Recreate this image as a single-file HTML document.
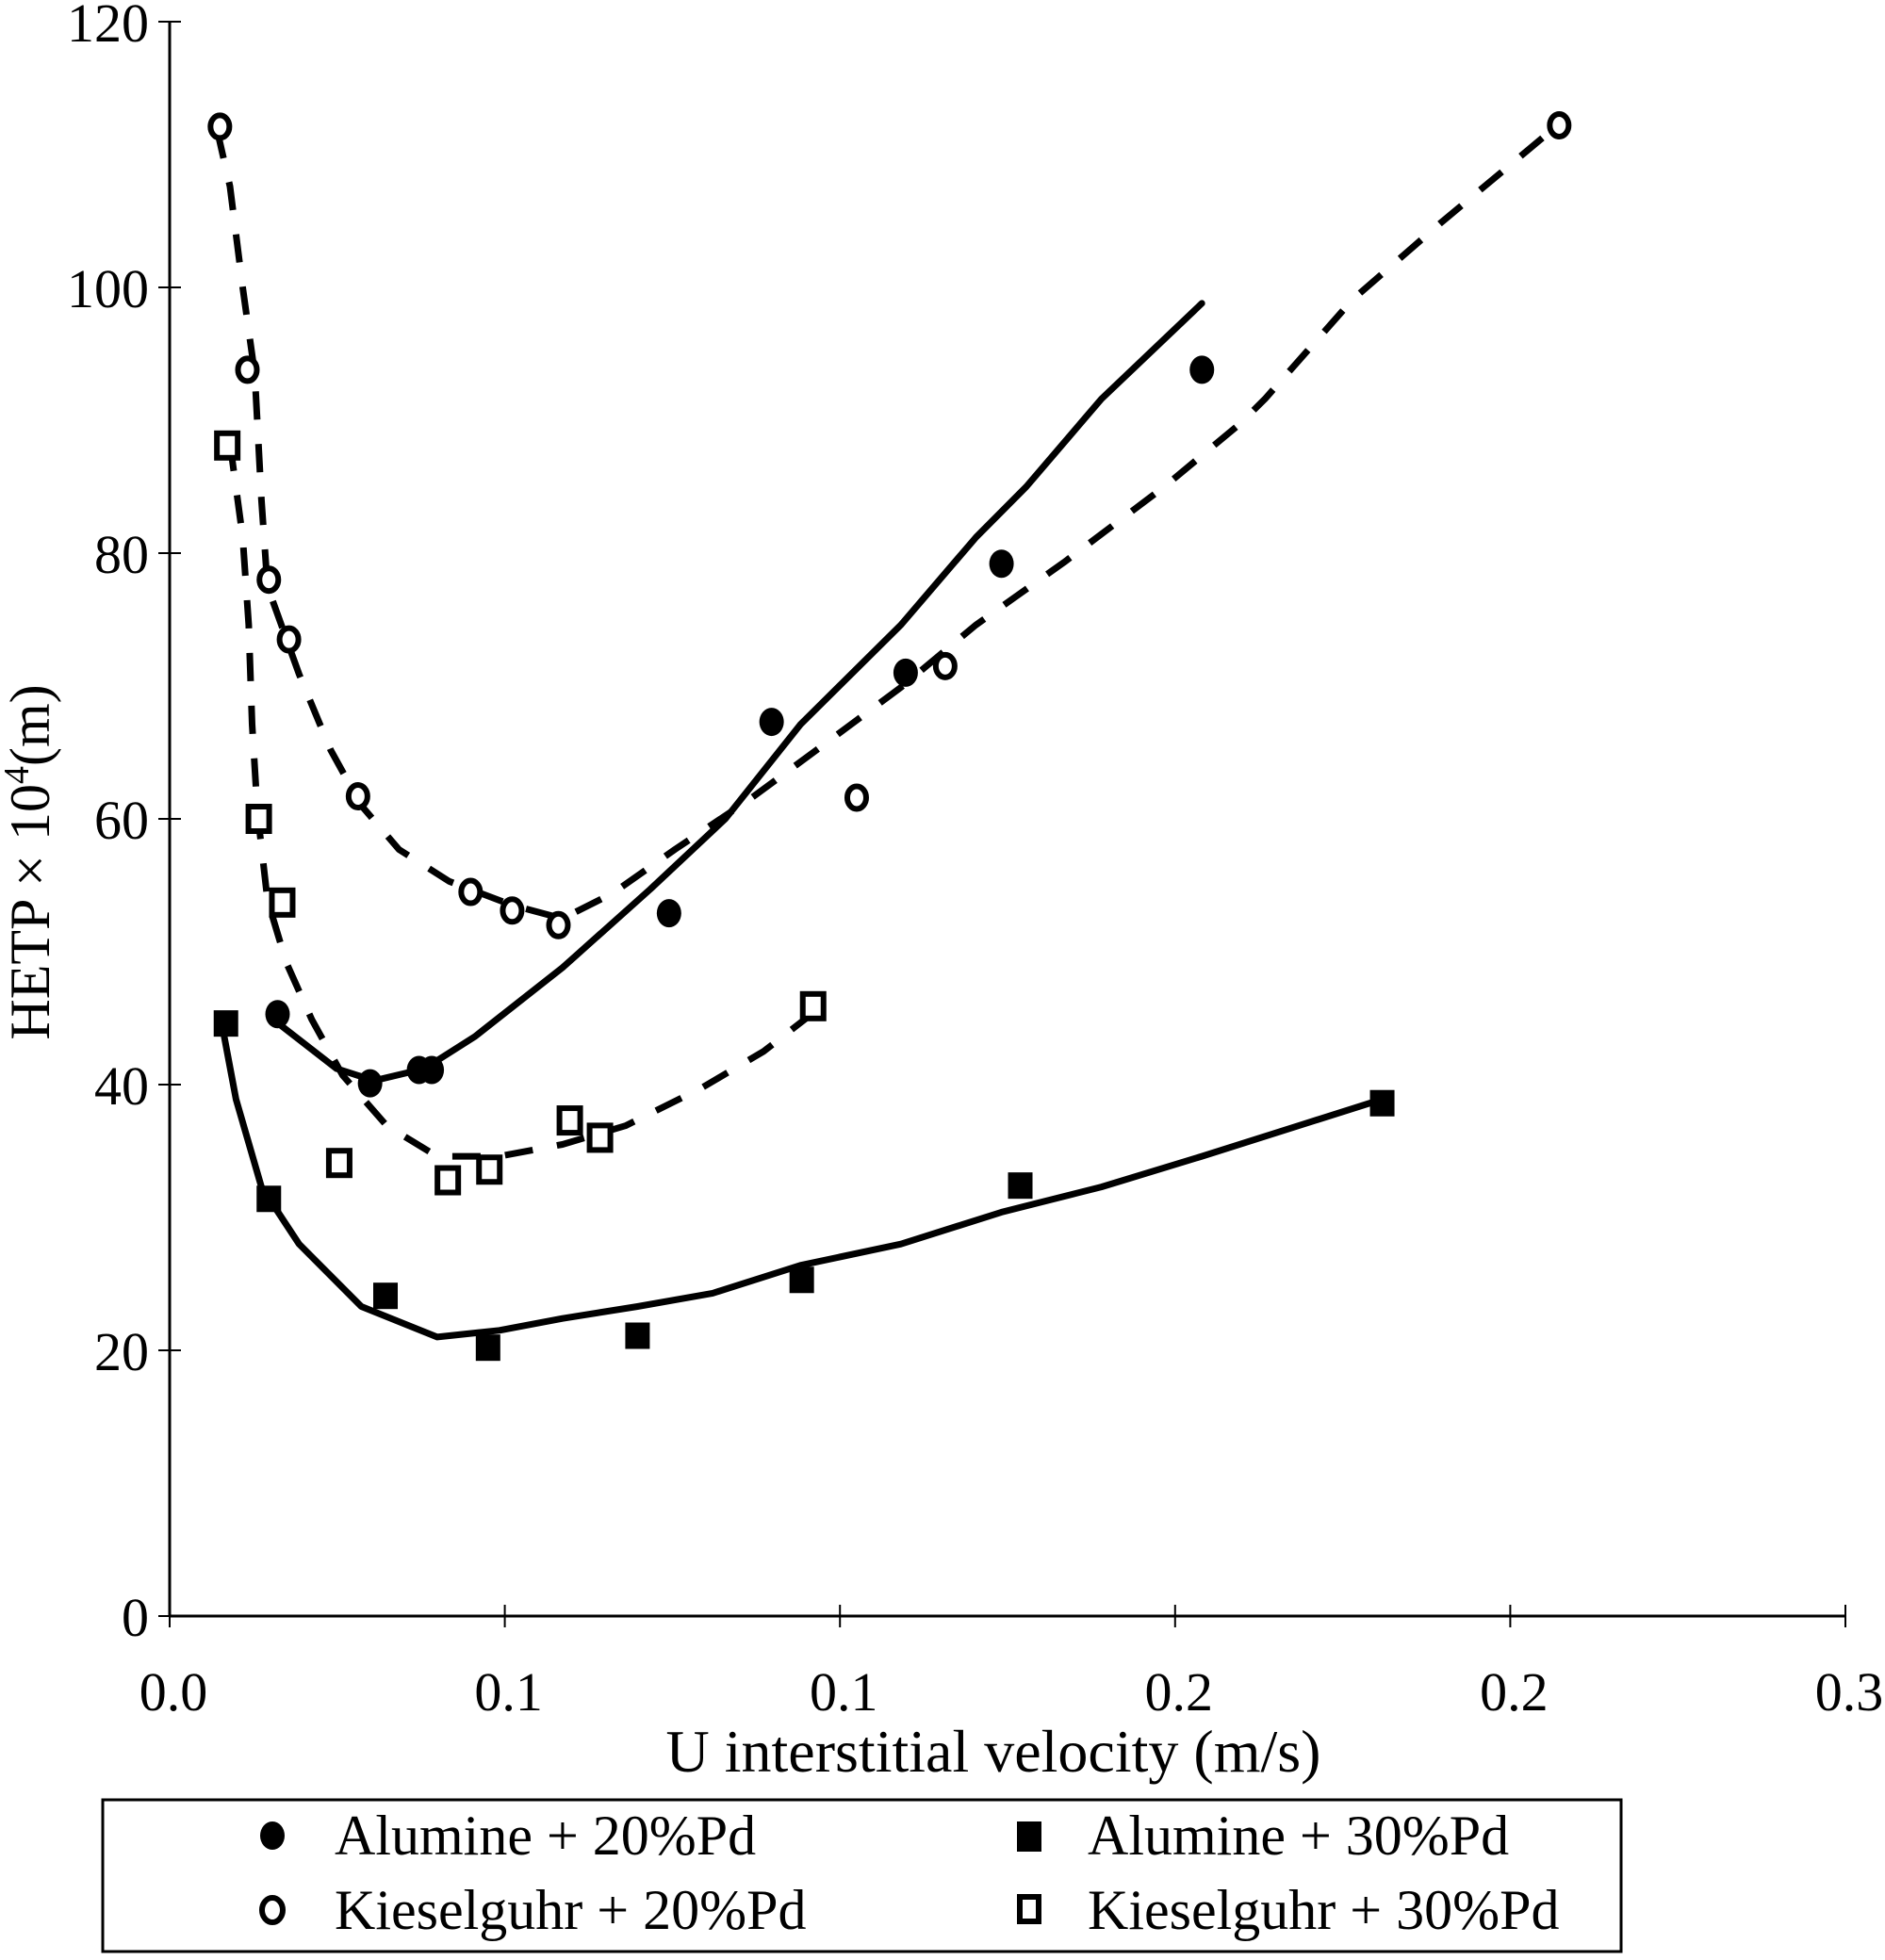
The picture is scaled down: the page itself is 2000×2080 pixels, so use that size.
<!DOCTYPE html>
<html><head><meta charset="utf-8"><style>
html,body{margin:0;padding:0;background:#fff;}
svg{display:block;}
text{font-family:"Liberation Serif",serif;fill:#000;}
</style></head><body>
<svg id="chart" width="2000" height="2080" viewBox="0 0 2000 2080" xmlns="http://www.w3.org/2000/svg">
<g id="axes"></g>
<g id="series"></g>
<text x="1054" y="1880" font-size="64" text-anchor="middle">U interstitial velocity (m/s)</text>
<text transform="translate(52,915) rotate(-90)" font-size="60" text-anchor="middle">HETP × 10<tspan font-size="38" dy="-22">4</tspan><tspan dy="22">(m)</tspan></text>
<g>
<rect x="109" y="1910" width="1611" height="161" fill="none" stroke="#000" stroke-width="3"/>
<ellipse cx="289" cy="1948" rx="13" ry="15" fill="#000"/>
<text x="355" y="1968" font-size="60">Alumine + 20%Pd</text>
<ellipse cx="289" cy="2027" rx="11" ry="13" fill="none" stroke="#000" stroke-width="6"/>
<text x="355" y="2047" font-size="60">Kieselguhr + 20%Pd</text>
<rect x="1079" y="1933" width="26" height="32" fill="#000"/>
<text x="1154" y="1968" font-size="60">Alumine + 30%Pd</text>
<rect x="1082" y="2013" width="20" height="26" fill="none" stroke="#000" stroke-width="6"/>
<text x="1154" y="2047" font-size="60">Kieselguhr + 30%Pd</text>
</g>
</svg>
<script>
const xTicks = [0, 0.05, 0.1, 0.15, 0.2, 0.25];
const xTickLabels = ["0.0", "0.1", "0.1", "0.2", "0.2", "0.3"];
const yTicks = [0, 20, 40, 60, 80, 100, 120];
const yTickLabels = ["0", "20", "40", "60", "80", "100", "120"];

const a20X = [0.0161, 0.0299, 0.0372, 0.0391, 0.0745, 0.0898, 0.1098, 0.1241, 0.154];
const a20Y = [45.3, 40.1, 41.1, 41.1, 52.9, 67.3, 71.0, 79.2, 93.8];
const a20FitX = [0.0152, 0.0249, 0.0305, 0.038, 0.0455, 0.0586, 0.0717, 0.0829, 0.0941, 0.1091, 0.1203, 0.1278, 0.139, 0.154];
const a20FitY = [45.0, 41.2, 40.3, 41.2, 43.6, 48.8, 54.7, 60.0, 67.1, 74.6, 81.2, 85.0, 91.6, 98.8];

const k20X = [0.0075, 0.0116, 0.0148, 0.0178, 0.0281, 0.0449, 0.0511, 0.058, 0.1025, 0.1157, 0.2073];
const k20Y = [112.1, 93.8, 78.0, 73.5, 61.7, 54.5, 53.1, 52.0, 61.6, 71.5, 112.2];
const k20FitX = [0.0071, 0.009, 0.0109, 0.0127, 0.0137, 0.0146, 0.0193, 0.024, 0.0286, 0.0342, 0.0417, 0.0511, 0.0586, 0.0661, 0.0754, 0.0866, 0.0979, 0.1091, 0.1203, 0.1334, 0.1484, 0.1596, 0.1634, 0.1765, 0.1895, 0.2073];
const k20FitY = [111.8, 107.6, 100.0, 93.5, 84.0, 77.5, 70.9, 65.2, 61.0, 57.7, 55.3, 53.5, 52.5, 54.4, 57.7, 61.5, 65.7, 69.9, 74.6, 79.3, 85.0, 89.7, 91.6, 99.1, 104.8, 112.3];

const a30X = [0.0084, 0.0148, 0.0322, 0.0475, 0.0698, 0.0943, 0.1269, 0.1809];
const a30Y = [44.6, 31.4, 24.1, 20.2, 21.1, 25.3, 32.4, 38.6];
const a30FitX = [0.008, 0.0099, 0.0137, 0.0193, 0.0286, 0.0399, 0.0492, 0.0586, 0.0698, 0.081, 0.0941, 0.1091, 0.1241, 0.139, 0.154, 0.169, 0.1809];
const a30FitY = [44.0, 38.9, 32.3, 28.0, 23.3, 21.0, 21.5, 22.4, 23.3, 24.3, 26.4, 28.0, 30.4, 32.3, 34.6, 37.0, 38.9];

const k30X = [0.0086, 0.0133, 0.0168, 0.0253, 0.0415, 0.0477, 0.0597, 0.0642, 0.096];
const k30Y = [88.1, 60.0, 53.7, 34.1, 32.8, 33.6, 37.3, 36.0, 45.9];
const k30FitX = [0.009, 0.0109, 0.0118, 0.0123, 0.0131, 0.0146, 0.0174, 0.0212, 0.0258, 0.0324, 0.0399, 0.0492, 0.0586, 0.068, 0.0792, 0.0886, 0.096];
const k30FitY = [88.3, 81.2, 74.6, 67.1, 60.5, 53.9, 49.2, 44.9, 40.7, 36.9, 34.6, 34.6, 35.5, 36.9, 39.7, 42.5, 45.4];

const NS = "http://www.w3.org/2000/svg";
const X0 = 180, X1 = 1958, Y0 = 1715, Y1 = 23;
function sx(v){ return X0 + v / 0.25 * (X1 - X0); }
function sy(v){ return Y0 - v / 120 * (Y0 - Y1); }
function mk(tag, attrs, parent){
  const e = document.createElementNS(NS, tag);
  for (const k in attrs) e.setAttribute(k, attrs[k]);
  parent.appendChild(e);
  return e;
}
const axes = document.getElementById('axes');
const series = document.getElementById('series');

let e = mk('line', {x1: X0, y1: Y0, x2: X1, y2: Y0, stroke: '#000', 'stroke-width': 3}, axes);


e = mk('line', {x1: X0, y1: Y0, x2: X0, y2: Y1, stroke: '#000', 'stroke-width': 3}, axes);



xTicks.forEach((t, i) => {
  const x = sx(t);
  const tk = mk('line', {x1: x, y1: Y0 - 12, x2: x, y2: Y0 + 12, stroke: '#000', 'stroke-width': 2}, axes);
  
  
  const lb = mk('text', {x: x + 4, y: 1815, 'font-size': 58, 'text-anchor': 'middle'}, axes);
  lb.textContent = xTickLabels[i];
  
  
});
yTicks.forEach((t, i) => {
  const y = sy(t);
  const tk = mk('line', {x1: X0 - 12, y1: y, x2: X0 + 12, y2: y, stroke: '#000', 'stroke-width': 2}, axes);
  
  
  const lb = mk('text', {x: 158, y: y + 21, 'font-size': 58, 'text-anchor': 'end'}, axes);
  lb.textContent = yTickLabels[i];
  
  
});

function curve(xs, ys, name, dashed){
  const d = xs.map((v, i) => (i ? 'L' : 'M') + sx(v).toFixed(1) + ' ' + sy(ys[i]).toFixed(1)).join(' ');
  const p = mk('path', {d: d, fill: 'none', stroke: '#000', 'stroke-width': 7, 'stroke-linejoin': 'round', 'stroke-linecap': dashed ? 'butt' : 'round'}, series);
  if (dashed) p.setAttribute('stroke-dasharray', '30 26');
  
  
}
function points(xs, ys, name, kind){
  xs.forEach((v, i) => {
    const x = sx(v), y = sy(ys[i]);
    let m;
    if (kind === 'fc') m = mk('ellipse', {cx: x, cy: y, rx: 13, ry: 15, fill: '#000'}, series);
    else if (kind === 'oc') m = mk('ellipse', {cx: x, cy: y, rx: 10, ry: 12, fill: '#fff', stroke: '#000', 'stroke-width': 6}, series);
    else if (kind === 'fs') m = mk('rect', {x: x - 13, y: y - 14, width: 26, height: 28, fill: '#000'}, series);
    else m = mk('rect', {x: x - 11, y: y - 13, width: 22, height: 26, fill: '#fff', stroke: '#000', 'stroke-width': 6}, series);
    
    
  });
}
curve(a20FitX, a20FitY, 'alumine-20-fit-line', false);
curve(k20FitX, k20FitY, 'kieselguhr-20-fit-line', true);
curve(a30FitX, a30FitY, 'alumine-30-fit-line', false);
curve(k30FitX, k30FitY, 'kieselguhr-30-fit-line', true);
points(a20X, a20Y, 'alumine-20-point', 'fc');
points(k20X, k20Y, 'kieselguhr-20-point', 'oc');
points(a30X, a30Y, 'alumine-30-point', 'fs');
points(k30X, k30Y, 'kieselguhr-30-point', 'os');
</script>
</body></html>
